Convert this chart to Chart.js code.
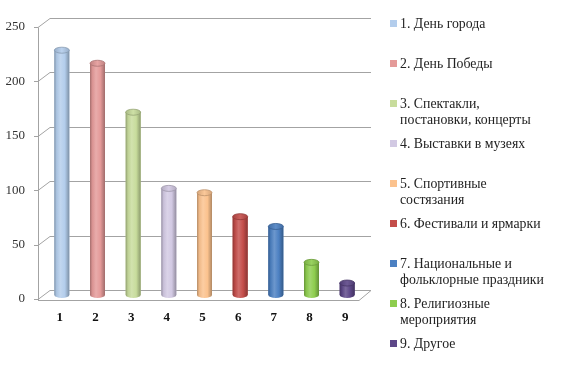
<!DOCTYPE html>
<html>
<head>
<meta charset="utf-8">
<script src="https://cdn.jsdelivr.net/npm/chart.js@4/dist/chart.umd.min.js"></script>
<style>
  html, body { margin: 0; padding: 0; background: #fff; }
  #wrap { position: relative; width: 561px; height: 372px; }
  #c { position: absolute; left: 0; top: 0; }
  #legend { position: absolute; left: 0; top: 0; width: 561px; height: 372px; pointer-events: none;
            font-family: "Liberation Serif", "Times New Roman", serif; font-size: 13.8px; color: #222; }
  .item { position: absolute; left: 390px; }
  .sw { position: absolute; left: 0; top: 4px; width: 7px; height: 7px; }
  .txt { position: absolute; left: 10px; top: 0; white-space: nowrap; line-height: 16px; }
</style>
</head>
<body>
<div id="wrap">
  <canvas id="c" width="561" height="372"></canvas>
  <div id="legend"></div>
</div>
<script>
// ---- data ----
const categories = ["1", "2", "3", "4", "5", "6", "7", "8", "9"];
const values = [225, 213, 168, 98, 94, 72, 63, 30, 11];
const legendLabels = [
  ["1. День города"],
  ["2. День Победы"],
  ["3. Спектакли,", "постановки, концерты"],
  ["4. Выставки в музеях"],
  ["5. Спортивные", "состязания"],
  ["6. Фестивали и ярмарки"],
  ["7. Национальные и", "фольклорные праздники"],
  ["8. Религиозные", "мероприятия"],
  ["9. Другое"]
];
const colors = ["#b3cdec", "#e49a99", "#c8dc9c", "#d2c9e3", "#fbc28e", "#c44d4a", "#4c80c2", "#8ecd4e", "#5d4788"];
const yTicks = [0, 50, 100, 150, 200, 250];

// ---- helpers ----
function shade(hex, f) {
  const n = parseInt(hex.slice(1), 16);
  let r = (n >> 16) & 255, g = (n >> 8) & 255, b = n & 255;
  if (f < 1) { r *= f; g *= f; b *= f; }
  else { const k = f - 1; r += (255 - r) * k; g += (255 - g) * k; b += (255 - b) * k; }
  return "rgb(" + Math.round(r) + "," + Math.round(g) + "," + Math.round(b) + ")";
}

const DX = 12, DY = -9;      // depth of back wall
const BX = 6, BY = -4;       // bars sit mid-depth
const LINE = "#a3a3a3";

const framePlugin = {
  id: "frame3d",
  beforeDatasetsDraw(chart) {
    const ctx = chart.ctx, ys = chart.scales.y, a = chart.chartArea;
    const L = a.left, R = a.right, B = ys.getPixelForValue(0);
    ctx.save();
    ctx.strokeStyle = LINE;
    ctx.lineWidth = 1;
    ctx.beginPath();
    yTicks.forEach(v => {
      const y = Math.round(ys.getPixelForValue(v)) + 0.5;
      ctx.moveTo(L + DX, y + DY); ctx.lineTo(R + DX, y + DY);
      ctx.moveTo(L, y); ctx.lineTo(L + DX, y + DY);
      ctx.moveTo(L - 4, y); ctx.lineTo(L, y);
    });
    const top = Math.round(ys.getPixelForValue(250)) + 0.5;
    const bot = Math.round(B) + 0.5;
    ctx.moveTo(L + 0.5, top); ctx.lineTo(L + 0.5, bot + 1);
    ctx.moveTo(L, bot + 1); ctx.lineTo(R, bot + 1);
    ctx.moveTo(R, bot + 1); ctx.lineTo(R + DX, bot + DY);
    ctx.stroke();
    ctx.restore();
    ctx.save();
    ctx.translate(BX, BY);
  },
  afterDatasetsDraw(chart) {
    const ctx = chart.ctx;
    const meta = chart.getDatasetMeta(0);
    meta.data.forEach((el, i) => {
      const c = colors[i];
      const w = el.width, x0 = el.x - w / 2, x1 = el.x + w / 2;
      const top = el.y, base = el.base;
      const rx = w / 2, ry = 3;
      const g = ctx.createLinearGradient(x0, 0, x1, 0);
      g.addColorStop(0, shade(c, 0.72));
      g.addColorStop(0.15, shade(c, 0.95));
      g.addColorStop(0.4, shade(c, 1.18));
      g.addColorStop(0.7, c);
      g.addColorStop(1, shade(c, 0.7));
      ctx.fillStyle = g;
      ctx.beginPath();
      ctx.moveTo(x0, top);
      ctx.lineTo(x0, base);
      ctx.ellipse(el.x, base, rx, ry, 0, Math.PI, 0, true);
      ctx.lineTo(x1, top);
      ctx.closePath();
      ctx.fill();
      ctx.beginPath();
      ctx.ellipse(el.x, top, rx, ry, 0, 0, Math.PI * 2);
      const tg = ctx.createLinearGradient(x0, 0, x1, 0);
      tg.addColorStop(0, shade(c, 0.85));
      tg.addColorStop(0.5, shade(c, 1.1));
      tg.addColorStop(1, shade(c, 0.85));
      ctx.fillStyle = tg;
      ctx.fill();
      ctx.strokeStyle = shade(c, 0.75);
      ctx.lineWidth = 0.8;
      ctx.stroke();
    });
    ctx.restore();
  }
};

new Chart(document.getElementById("c"), {
  type: "bar",
  data: {
    labels: categories,
    datasets: [{
      data: values,
      backgroundColor: colors,
      borderWidth: 0,
      categoryPercentage: 1,
      barPercentage: 0.42
    }]
  },
  options: {
    responsive: false,
    animation: false,
    events: [],
    layout: { padding: { top: 27, right: 202, left: 0, bottom: 0 } },
    plugins: { legend: { display: false }, tooltip: { enabled: false } },
    scales: {
      x: {
        border: { display: false },
        grid: { display: false, drawTicks: false },
        ticks: {
          color: "#111",
          font: { family: "Liberation Serif", size: 13, weight: "bold" },
          padding: 11,
          labelOffset: 4,
          maxRotation: 0
        },
        afterFit(s) { s.height = 73; }
      },
      y: {
        min: 0, max: 250,
        border: { display: false },
        grid: { display: false, drawTicks: false },
        ticks: {
          stepSize: 50,
          color: "#333",
          font: { family: "Liberation Serif", size: 13 },
          padding: 13
        },
        afterFit(s) { s.width = 38; }
      }
    }
  },
  plugins: [framePlugin]
});

// ---- legend (HTML text) ----
const lg = document.getElementById("legend");
legendLabels.forEach((lines, i) => {
  const it = document.createElement("div");
  it.className = "item";
  it.style.top = (24 + 40 * i - 8) + "px";
  const sw = document.createElement("div");
  sw.className = "sw";
  sw.style.background = colors[i];
  const tx = document.createElement("div");
  tx.className = "txt";
  tx.innerHTML = lines.join("<br>");
  it.appendChild(sw); it.appendChild(tx);
  lg.appendChild(it);
});
</script>
</body>
</html>
